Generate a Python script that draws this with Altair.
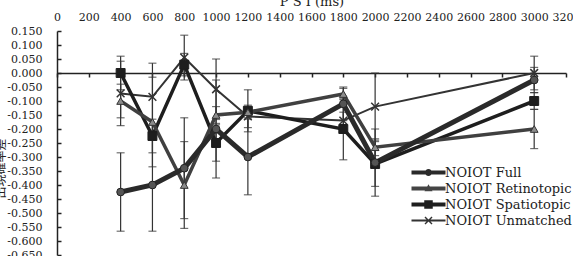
import altair as alt
import pandas as pd

# ---- data ----
psi = [400, 600, 800, 1000, 1200, 1800, 2000, 3000]
series_names = ["NOIOT Full", "NOIOT Retinotopic", "NOIOT Spatiotopic", "NOIOT Unmatched"]
full = [-0.425, -0.400, -0.340, -0.200, -0.300, -0.110, -0.320, -0.025]
full_err = [0.140, 0.165, 0.180, 0.175, 0.135, 0.060, 0.120, 0.045]
retino = [-0.100, -0.175, -0.400, -0.150, -0.140, -0.075, -0.265, -0.200]
retino_err = [0.060, 0.160, 0.155, 0.030, 0.020, 0.020, 0.030, 0.070]
spatio = [0.000, -0.225, 0.030, -0.250, -0.135, -0.200, -0.325, -0.100]
spatio_err = [0.060, 0.060, 0.040, 0.065, 0.075, 0.110, 0.080, 0.030]
unmatched = [-0.073, -0.085, 0.055, -0.058, -0.155, -0.170, -0.120, 0.000]
unmatched_err = [0.115, 0.120, 0.080, 0.108, 0.040, 0.030, 0.120, 0.060]

x_ticks = [0, 200, 400, 600, 800, 1000, 1200, 1400, 1600, 1800, 2000, 2200, 2400, 2600, 2800, 3000, 3200]
y_ticks = [0.15, 0.10, 0.05, 0.0, -0.05, -0.10, -0.15, -0.20, -0.25, -0.30, -0.35, -0.40,
           -0.45, -0.50, -0.55, -0.60, -0.65]

values = [full, retino, spatio, unmatched]
errors = [full_err, retino_err, spatio_err, unmatched_err]

rows = []
for name, vals, errs in zip(series_names, values, errors):
    for xv, yv, ev in zip(psi, vals, errs):
        rows.append({"series": name, "x": xv, "y": yv, "lo": yv - ev, "hi": yv + ev})
df = pd.DataFrame(rows)

# ---- styles ----
W, H = 509, 224
SERIF = "DejaVu Serif"
line_style = {
    "NOIOT Full": dict(color="#2a2a2a", strokeWidth=5),
    "NOIOT Retinotopic": dict(color="#404040", strokeWidth=3.5),
    "NOIOT Spatiotopic": dict(color="#1e1e1e", strokeWidth=3.5),
    "NOIOT Unmatched": dict(color="#333333", strokeWidth=2),
}
XPATH = "M-1,-1L1,1M1,-1L-1,1"
point_style = {
    "NOIOT Full": dict(shape="circle", filled=True, fill="#555555", stroke="#222222", strokeWidth=1, size=60),
    "NOIOT Retinotopic": dict(shape="triangle-up", filled=True, fill="#8c8c8c", stroke="#333333", strokeWidth=1, size=60),
    "NOIOT Spatiotopic": dict(shape="square", filled=True, fill="#1e1e1e", stroke="#1e1e1e", strokeWidth=1, size=80),
    "NOIOT Unmatched": dict(shape=XPATH, filled=False, stroke="#333333", strokeWidth=1.5, size=60),
}
legend_paths = [
    "M-3.4,-0.4H3.4V0.4H-3.4Z M-0.7,0A0.7,0.7 0 1,1 0.7,0A0.7,0.7 0 1,1 -0.7,0Z",
    "M-3.4,-0.4H3.4V0.4H-3.4Z M0,-0.85L0.8,0.55L-0.8,0.55Z",
    "M-3.4,-0.4H3.4V0.4H-3.4Z M-0.85,-0.85H0.85V0.85H-0.85Z",
    "M-3.4,-0.22H3.4V0.22H-3.4Z M-0.8,-0.6L-0.6,-0.8L0.8,0.6L0.6,0.8Z M0.6,-0.8L0.8,-0.6L-0.6,0.8L-0.8,0.6Z",
]
legend_colors = ["#2a2a2a", "#444444", "#1e1e1e", "#333333"]

xs = alt.Scale(domain=[0, 3200], nice=False, zero=False)
ys = alt.Scale(domain=[-0.65, 0.15], nice=False, zero=False)

base = alt.Chart(df)

# axes layer A: labelled top x axis, labelled left y axis
axis_a = base.mark_point(opacity=0).encode(
    x=alt.X("x:Q", scale=xs, axis=alt.Axis(
        orient="top", values=x_ticks, format="d", domain=False, ticks=False, grid=False,
        labelFont=SERIF, labelFontSize=11, labelColor="#222222", labelPadding=9,
        labelFlush=False,
        title="P S I (ms)", titleFont=SERIF, titleFontSize=13, titleFontWeight="normal",
        titleColor="#222222", titlePadding=3)),
    y=alt.Y("y:Q", scale=ys, axis=alt.Axis(
        orient="left", values=y_ticks, domain=False, ticks=False, grid=False,
        labelExpr="replace(format(datum.value, '.3f'), '\u2212', '-')",
        labelFont=SERIF, labelFontSize=11, labelColor="#222222", labelPadding=15,
        labelFlush=False,
        title="出現確率差", titleFont="Noto Sans CJK JP", titleFontSize=12,
        titleFontWeight="normal", titleColor="#222222", titleX=-50, titleY=137)),
)

# axes layer B: zero line with ticks, and vertical axis line with inward ticks
axis_b = base.mark_point(opacity=0).encode(
    x=alt.X("x:Q", scale=xs, axis=alt.Axis(
        orient="bottom", offset=-(H - 42), values=x_ticks, labels=False, title=None,
        grid=False, domain=True, domainColor="#222222", domainWidth=1.5,
        ticks=True, tickSize=4, tickColor="#222222", tickWidth=1.5)),
    y=alt.Y("y:Q", scale=ys, axis=alt.Axis(
        orient="right", offset=-W, values=y_ticks, labels=False, title=None,
        grid=False, domain=True, domainColor="#222222", domainWidth=1.5,
        ticks=True, tickSize=4, tickColor="#222222", tickWidth=1.5)),
)

layers = [axis_a, axis_b]

for name in series_names:
    sub = base.transform_filter(alt.datum.series == name)
    layers.append(sub.mark_errorbar(ticks=True, size=8, thickness=1.2, color="#333333").encode(
        x=alt.X("x:Q", scale=xs, axis=None),
        y=alt.Y("lo:Q", scale=ys, axis=None),
        y2="hi:Q",
    ))

for name in ["NOIOT Unmatched", "NOIOT Spatiotopic", "NOIOT Retinotopic", "NOIOT Full"]:
    sub = base.transform_filter(alt.datum.series == name)
    layers.append(sub.mark_line(**line_style[name]).encode(
        x=alt.X("x:Q", scale=xs, axis=None),
        y=alt.Y("y:Q", scale=ys, axis=None),
    ))

for name in ["NOIOT Unmatched", "NOIOT Spatiotopic", "NOIOT Retinotopic", "NOIOT Full"]:
    sub = base.transform_filter(alt.datum.series == name)
    layers.append(sub.mark_point(opacity=1, **point_style[name]).encode(
        x=alt.X("x:Q", scale=xs, axis=None),
        y=alt.Y("y:Q", scale=ys, axis=None),
    ))

leg = dict(orient="none", legendX=365, legendY=135, title=None, symbolSize=100,
           symbolOpacity=1, symbolStrokeWidth=0, labelFont=SERIF, labelFontSize=13,
           labelColor="#222222", labelOffset=10, rowPadding=2, padding=0)
legend_layer = alt.Chart(pd.DataFrame({"series": series_names})).mark_point(
    filled=True, opacity=0).encode(
    x=alt.value(0), y=alt.value(0),
    shape=alt.Shape("series:N", scale=alt.Scale(domain=series_names, range=legend_paths),
                    legend=alt.Legend(**leg)),
    color=alt.Color("series:N", scale=alt.Scale(domain=series_names, range=legend_colors),
                    legend=alt.Legend(**leg)),
)
layers.append(legend_layer)

chart = alt.layer(*layers).resolve_axis(x="independent", y="independent").properties(
    width=W, height=H,
    autosize=alt.AutoSizeParams(type="none"),
    padding={"left": 57, "top": 31, "right": 7, "bottom": 1},
    background="white",
).configure_view(stroke=None)

chart.save("out.html", embed_options={"renderer": "svg", "actions": False})
